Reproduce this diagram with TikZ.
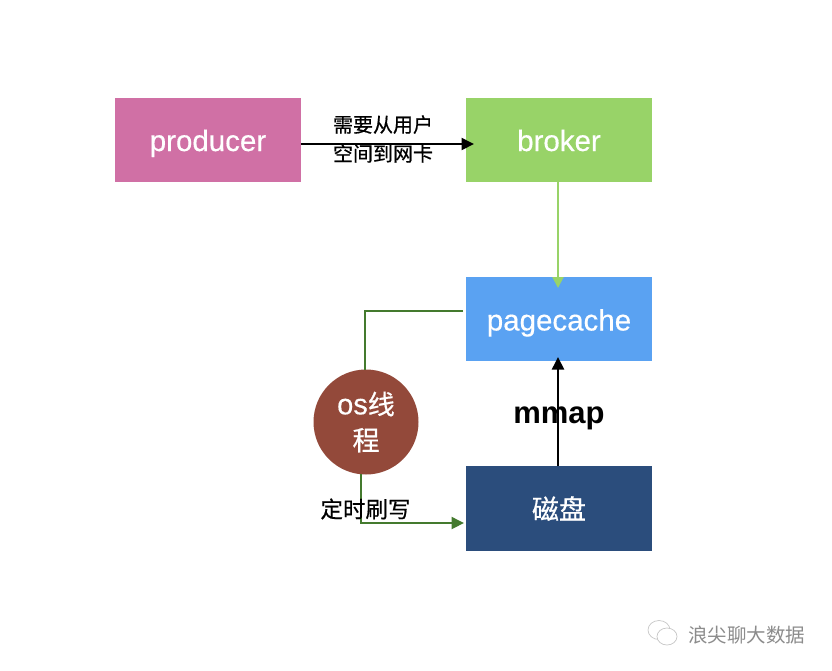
\documentclass[tikz,border=0pt]{standalone}
\usepackage{fontspec}
\setmainfont{Liberation Sans}
\newfontfamily\cjk{Noto Sans CJK SC}
\newfontfamily\cjkm[FakeBold=0.6]{Noto Sans CJK SC}
\newfontfamily\latm[FakeBold=0.4]{Liberation Sans}
\usetikzlibrary{arrows.meta}
\definecolor{cpink}{HTML}{D070A5}
\definecolor{cgreen}{HTML}{98D368}
\definecolor{cblue}{HTML}{5AA2F2}
\definecolor{cnavy}{HTML}{2B4D7C}
\definecolor{cbrown}{HTML}{93493A}
\definecolor{cline}{HTML}{447A2E}
\tikzset{
  box/.style={minimum width=186pt,minimum height=84pt,inner sep=0pt,text=white,font=\latm\fontsize{29.5}{32}\selectfont},
  latinbox/.style={box,text height=23pt,text depth=0pt},
  blackarrow/.style={draw=black,line width=2pt,-{Triangle[length=12.5pt,width=12pt]}},
  lightarrow/.style={draw=cgreen,line width=2pt,-{Triangle[length=11pt,width=11pt]}},
  greenline/.style={draw=cline,line width=2pt},
  greenarrow/.style={greenline,-{Triangle[length=12.5pt,width=12pt]}},
  caption/.style={inner sep=0pt,text=black,font=\cjkm\fontsize{20}{29}\selectfont,align=center},
  bubble/.style={draw=black!22,line width=.7pt,fill=white},
}
\begin{document}
\begin{tikzpicture}[x=1pt,y=-1pt]
\useasboundingbox (0,0) rectangle (832,670);
\fill[white] (0,0) rectangle (832,670);
\node[latinbox,fill=cpink] (producer) at (208,139.5) {producer};
\node[latinbox,fill=cgreen] (broker) at (559,139.5) {broker};
\node[latinbox,fill=cblue] (pagecache) at (559,319) {pagecache};
\node[box,fill=cnavy,minimum height=85pt,font=\cjkm\fontsize{27}{30}\selectfont] (disk) at (559,508.5) {磁盘};
\node[circle,fill=cbrown,minimum size=105pt,inner sep=0pt,text=white,align=center,font=\latm\fontsize{29}{36}\selectfont] (os) at (366,422) {os{\cjkm\fontsize{27}{36}\selectfont 线}\\[0pt]{\cjkm\fontsize{27}{36}\selectfont 程}};
\coordinate (pageout) at (463,311);
\coordinate (ostop) at (365,369.5);
\coordinate (osbottom) at (361,474);
\coordinate (diskin) at (464,523);
\coordinate (brokerin) at (474,144);
\coordinate (producerout) at (301,144);
\coordinate (brokerout) at (558,181);
\coordinate (pagein) at (558,288);
\coordinate (diskout) at (558,466);
\coordinate (pagebottom) at (558,357);
\draw[blackarrow] (producerout) -- (brokerin);
\draw[lightarrow] (brokerout) -- (pagein);
\draw[blackarrow] (diskout) -- (pagebottom);
\draw[greenline] (pageout) -| (ostop);
\draw[greenarrow] (osbottom) |- (diskin);
\node[caption] (need) at (383,139) {需要从用户\\空间到网卡};
\node[caption,font=\cjkm\fontsize{22.5}{26}\selectfont] (timer) at (365.5,509) {定时刷写};
\node[inner sep=0pt,font=\bfseries\fontsize{31}{33}\selectfont] (mmap) at (559,418) {mmap};
\node[inner sep=0pt,text=black!45,font=\cjk\fontsize{19.5}{22}\selectfont] (wm) at (746.5,635) {浪尖聊大数据};
\draw[bubble] (659,630) ellipse (11pt and 9.5pt);
\draw[bubble] (667,636.5) ellipse (10pt and 8.5pt);
\end{tikzpicture}
\end{document}
